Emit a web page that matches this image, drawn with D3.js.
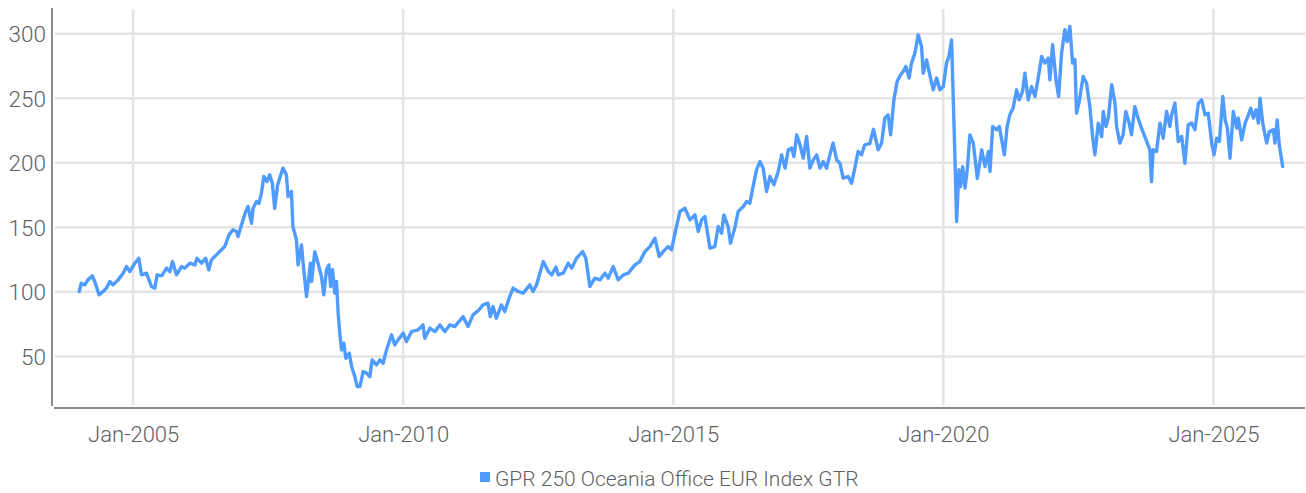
<!DOCTYPE html>
<html><head><meta charset="utf-8">
<script src="https://cdn.jsdelivr.net/npm/d3@7"></script>
<style>
html,body{margin:0;padding:0;background:#fff;}
svg{display:block;}
text{font-family:Roboto,"Liberation Sans",sans-serif;font-weight:300;fill:#5f5f5f;}
</style></head>
<body>
<svg id="chart" width="1306" height="493"></svg>
<script>
const seriesName = "GPR 250 Oceania Office EUR Index GTR";
const yTicks = [50, 100, 150, 200, 250, 300];
const xTickDates = ["2005-01-01","2010-01-01","2015-01-01","2020-01-01","2025-01-01"];
const xTickLabels = ["Jan-2005","Jan-2010","Jan-2015","Jan-2020","Jan-2025"];
const dates = [
"2004-01-02","2004-01-16","2004-02-08","2004-03-01","2004-03-31","2004-04-16","2004-05-15","2004-06-12","2004-07-04","2004-07-27",
"2004-08-18","2004-09-21","2004-10-25","2004-11-17","2004-12-09","2005-01-12","2005-02-08","2005-02-26","2005-04-01","2005-05-05",
"2005-05-27","2005-06-12","2005-07-12","2005-08-15","2005-09-06","2005-09-24","2005-10-21","2005-11-24","2005-12-16","2006-01-19",
"2006-02-22","2006-03-08","2006-04-08","2006-05-06","2006-05-27","2006-06-14","2006-07-18","2006-08-21","2006-09-12","2006-10-11",
"2006-11-07","2006-11-30","2006-12-11","2007-01-03","2007-02-01","2007-02-17","2007-02-28","2007-03-12","2007-03-23","2007-04-15",
"2007-05-02","2007-05-18","2007-06-03","2007-06-25","2007-07-13","2007-07-31","2007-08-16","2007-09-05","2007-10-11","2007-11-03",
"2007-11-14","2007-12-07","2007-12-17","2008-01-10","2008-01-21","2008-02-13","2008-02-24","2008-03-18","2008-04-14","2008-04-21",
"2008-05-13","2008-06-04","2008-06-27","2008-07-13","2008-07-31","2008-08-16","2008-08-28","2008-09-10","2008-09-25","2008-10-07",
"2008-10-18","2008-10-29","2008-11-10","2008-11-25","2008-12-09","2009-01-01","2009-01-17","2009-02-08","2009-02-24","2009-03-14",
"2009-04-05","2009-04-28","2009-05-20","2009-06-05","2009-07-04","2009-07-27","2009-08-18","2009-09-10","2009-10-14","2009-11-05",
"2009-11-27","2010-01-01","2010-01-23","2010-02-26","2010-04-11","2010-05-15","2010-05-27","2010-06-30","2010-08-03","2010-09-06",
"2010-10-09","2010-11-12","2010-12-15","2011-02-10","2011-03-15","2011-04-18","2011-05-28","2011-06-24","2011-07-28","2011-08-13",
"2011-08-31","2011-09-23","2011-10-27","2011-11-18","2011-12-22","2012-01-14","2012-02-17","2012-03-22","2012-05-06","2012-05-28",
"2012-06-20","2012-07-13","2012-08-05","2012-09-08","2012-10-01","2012-10-30","2012-11-14","2012-12-18","2013-01-21","2013-02-13",
"2013-03-18","2013-04-28","2013-05-20","2013-06-16","2013-07-20","2013-08-23","2013-09-26","2013-10-18","2013-11-21","2013-12-25",
"2014-01-28","2014-03-03","2014-04-17","2014-05-20","2014-06-23","2014-07-27","2014-08-30","2014-09-28","2014-10-25","2014-11-27",
"2014-12-20","2015-01-12","2015-02-15","2015-03-21","2015-04-24","2015-05-28","2015-06-19","2015-07-12","2015-08-03","2015-09-06",
"2015-10-09","2015-11-01","2015-11-24","2015-12-09","2016-01-07","2016-01-23","2016-02-21","2016-03-15","2016-04-18","2016-05-11",
"2016-06-02","2016-06-24","2016-07-17","2016-08-09","2016-08-31","2016-09-23","2016-10-16","2016-11-12","2016-12-11","2017-01-03",
"2017-01-26","2017-02-17","2017-03-12","2017-03-27","2017-04-15","2017-05-07","2017-05-29","2017-06-21","2017-07-13","2017-08-05",
"2017-08-28","2017-09-19","2017-10-11","2017-11-03","2017-11-25","2017-12-17","2018-01-10","2018-02-01","2018-02-23","2018-03-29",
"2018-04-21","2018-05-13","2018-06-04","2018-06-27","2018-07-19","2018-08-22","2018-09-16","2018-10-18","2018-11-10","2018-12-02",
"2018-12-24","2019-01-10","2019-02-01","2019-02-23","2019-03-18","2019-04-05","2019-04-23","2019-05-15","2019-05-31","2019-06-23",
"2019-07-15","2019-08-07","2019-08-18","2019-09-10","2019-10-02","2019-10-25","2019-11-17","2019-12-09","2020-01-01","2020-01-23",
"2020-02-08","2020-02-26","2020-03-08","2020-03-19","2020-03-31","2020-04-16","2020-04-27","2020-05-11","2020-05-27","2020-06-11",
"2020-06-29","2020-07-22","2020-08-18","2020-09-17","2020-10-09","2020-11-01","2020-11-12","2020-11-30","2020-12-27","2021-01-14",
"2021-01-30","2021-02-17","2021-03-08","2021-03-26","2021-04-17","2021-05-11","2021-05-28","2021-06-20","2021-07-06","2021-07-28",
"2021-08-20","2021-09-12","2021-10-04","2021-10-27","2021-11-18","2021-12-11","2021-12-22","2022-01-09","2022-02-01","2022-02-19",
"2022-03-11","2022-04-02","2022-04-18","2022-05-06","2022-05-24","2022-06-09","2022-06-20","2022-07-08","2022-08-04","2022-08-27",
"2022-09-18","2022-10-07","2022-10-22","2022-11-14","2022-12-07","2022-12-18","2023-01-05","2023-01-21","2023-02-13","2023-03-07",
"2023-03-18","2023-04-09","2023-05-01","2023-05-19","2023-06-11","2023-06-27","2023-07-19","2023-08-10","2023-09-02","2023-09-25",
"2023-10-29","2023-11-09","2023-11-20","2023-12-13","2024-01-05","2024-01-27","2024-02-19","2024-03-12","2024-03-24","2024-04-15",
"2024-05-08","2024-05-31","2024-06-22","2024-07-14","2024-08-07","2024-08-29","2024-09-21","2024-10-13","2024-11-05","2024-11-27",
"2024-12-20","2025-01-05","2025-01-23","2025-02-10","2025-03-05","2025-03-21","2025-04-05","2025-04-23","2025-05-15","2025-06-07",
"2025-06-18","2025-07-11","2025-08-03","2025-08-25","2025-09-10","2025-09-28","2025-10-16","2025-11-01","2025-11-12","2025-11-30",
"2025-12-27","2026-01-14","2026-02-10","2026-02-21","2026-03-08","2026-03-22","2026-04-14"
];
const values = [
100.3,106.7,105.4,109.3,112.4,108.0,97.7,100.3,102.9,108.0,
105.4,109.3,114.5,119.6,115.7,122.2,126.1,113.2,114.5,104.1,
102.9,113.2,112.4,118.4,115.7,123.5,113.2,119.6,118.4,122.2,
120.9,126.1,122.2,126.1,117.1,124.8,128.7,132.6,135.1,144.2,
148.1,146.8,142.9,151.9,162.3,166.1,159.7,153.2,164.8,170.0,
168.7,176.4,189.4,185.5,190.7,184.2,164.8,183.0,195.9,190.7,
173.9,177.8,150.6,140.3,120.9,136.4,122.2,96.4,122.2,108.0,
131.2,122.2,111.9,97.7,117.1,120.9,104.1,117.1,99.0,108.0,
83.5,68.0,55.0,60.2,48.6,52.5,42.1,34.3,26.6,26.6,
38.2,37.0,34.3,47.3,43.4,47.3,44.7,55.0,66.7,58.9,
62.8,68.0,61.5,69.2,70.5,74.4,64.0,71.9,69.2,74.4,
69.2,74.4,73.1,80.8,73.1,82.2,86.0,89.9,91.2,80.8,
88.6,79.6,89.9,84.7,96.4,102.9,100.3,99.0,105.4,100.3,
105.4,114.5,123.5,115.7,113.2,119.2,113.2,114.5,122.2,118.4,
126.1,131.2,126.1,104.1,110.6,109.3,114.5,110.6,119.6,109.3,
113.2,114.5,120.9,123.5,131.2,135.1,141.6,127.4,131.2,135.1,
132.6,145.0,162.3,164.8,155.8,159.7,146.8,155.8,158.4,133.9,
135.1,150.6,145.5,159.7,150.6,137.7,149.4,162.3,166.1,170.0,
168.7,181.6,194.6,201.0,195.9,177.8,189.4,183.0,193.3,206.2,
195.9,210.1,211.4,204.9,221.7,214.0,203.6,220.4,195.9,202.3,
206.2,195.9,201.0,195.9,206.2,215.3,202.3,199.7,188.1,189.4,
184.2,195.9,208.8,206.2,214.0,215.0,226.0,210.1,215.3,234.7,
237.2,221.7,248.8,263.0,268.2,270.8,274.7,265.7,277.3,285.0,
299.2,290.2,269.5,279.8,268.2,256.6,265.7,256.6,259.1,277.3,
282.4,295.3,251.4,207.5,154.5,194.6,181.6,197.1,180.4,194.6,
221.7,215.3,188.1,210.1,197.1,208.8,193.3,228.2,225.6,228.2,
217.8,206.2,228.2,237.2,242.4,256.6,248.8,255.3,269.5,248.8,
259.1,251.4,265.7,282.4,277.3,281.2,264.3,291.5,264.3,251.4,
285.0,303.1,294.0,305.7,277.3,280.0,238.5,247.5,266.9,261.7,
243.6,220.4,206.2,230.8,220.4,239.8,228.2,234.7,260.5,246.3,
228.2,215.3,221.7,239.8,230.8,221.7,243.6,234.7,227.0,220.4,
210.1,185.5,210.1,208.8,230.8,219.1,239.8,228.2,237.2,246.3,
216.5,220.4,199.7,229.5,230.8,225.6,246.3,248.8,237.2,238.5,
215.3,206.2,219.1,216.5,251.4,233.3,227.0,203.6,239.8,227.0,
234.7,217.8,230.8,237.2,242.4,234.7,241.1,230.8,250.1,230.8,
215.3,224.3,225.6,215.3,233.3,214.0,197.1
];

(function () {
const parse = d3.timeParse("%Y-%m-%d");
const data = dates.map((d, i) => ({date: parse(d), value: values[i]}));

const svg = d3.select("#chart");
const mLeft = 52, mRight = 1305, mTop = 8, mBottom = 408;

const x = d3.scaleTime()
  .domain([parse("2003-07-02"), parse("2026-09-12")])
  .range([mLeft, mRight]);
const y = d3.scaleLinear().domain([10, 320]).range([mBottom, mTop]);

// grid
const grid = svg.append("g");
grid.selectAll("line.h").data(yTicks).join("line").attr("class", "h")
  .attr("x1", mLeft + 3).attr("x2", mRight)
  .attr("y1", d => y(d)).attr("y2", d => y(d))
  .attr("stroke", "#e4e4e4").attr("stroke-width", 2.5);
grid.selectAll("line.v").data(xTickDates.map(parse)).join("line").attr("class", "v")
  .attr("x1", d => x(d)).attr("x2", d => x(d))
  .attr("y1", mTop + 1).attr("y2", mBottom - 3)
  .attr("stroke", "#e4e4e4").attr("stroke-width", 2.5);

// axes
const yAxis = d3.axisLeft(y).tickValues(yTicks).tickSize(0).tickPadding(6);
const gy = svg.append("g").attr("transform", `translate(${mLeft},0)`).call(yAxis);
gy.select(".domain").remove();
gy.selectAll("text").attr("font-size", 22.5).attr("dy", "0.36em")
  .style("font-family", "Roboto").style("font-weight", 300).attr("fill", "#5f5f5f");

const xAxis = d3.axisBottom(x).tickValues(xTickDates.map(parse))
  .tickFormat((d, i) => xTickLabels[i]).tickSize(0).tickPadding(18);
const gx = svg.append("g").attr("transform", `translate(0,${mBottom})`).call(xAxis);
gx.select(".domain").remove();
gx.selectAll("text").attr("font-size", 22)
  .style("font-family", "Roboto").style("font-weight", 300).attr("fill", "#5f5f5f");

svg.append("line").attr("x1", mLeft).attr("x2", mLeft).attr("y1", mTop).attr("y2", mBottom - 2)
  .attr("stroke", "#8a8a8a").attr("stroke-width", 2);
svg.append("line").attr("x1", mLeft + 2).attr("x2", mRight).attr("y1", mBottom).attr("y2", mBottom)
  .attr("stroke", "#8a8a8a").attr("stroke-width", 2);

// series
const line = d3.line().x(d => x(d.date)).y(d => y(d.value));
svg.append("path").datum(data)
  .attr("fill", "none").attr("stroke", "#4f9bff").attr("stroke-width", 3.4)
  .attr("stroke-linejoin", "round").attr("stroke-linecap", "round")
  .attr("d", line);

// legend
const lg = svg.append("g").attr("transform", "translate(480,472)");
lg.append("rect").attr("width", 10).attr("height", 10).attr("fill", "#4f9bff");
lg.append("text").attr("x", 15).attr("y", 14).attr("font-size", 21)
  .style("font-family", "Roboto").style("font-weight", 300).attr("fill", "#5f5f5f")
  .text(seriesName);
})();
</script>
</body></html>
